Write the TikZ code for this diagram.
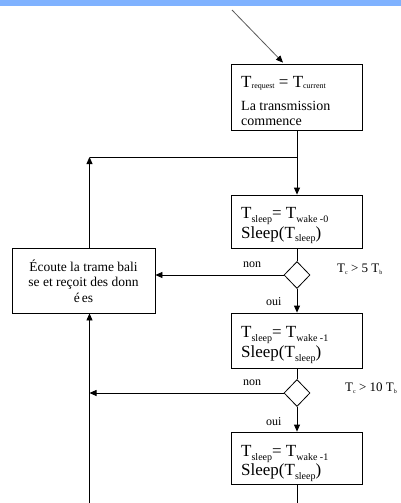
\documentclass[tikz,border=0pt]{standalone}
\usepackage{fontspec}
\setmainfont{Liberation Serif}
\usetikzlibrary{shapes.geometric,arrows.meta,calc}
\newcommand\lowsub[3]{\raisebox{-#2}{\fontsize{#1}{#1}\selectfont #3}}
\definecolor{band}{RGB}{127,178,255}
\begin{document}
\begin{tikzpicture}[x=1pt,y=-1pt,
 box/.style={draw,line width=0.8pt,minimum width=131pt,inner sep=0pt},
 dec/.style={draw,diamond,line width=0.8pt,minimum width=26pt,minimum height=27pt,inner sep=0pt},
 ln/.style={line width=0.8pt},
 arr/.style={ln,-{Triangle[length=7pt,width=6pt]}},
 big/.style={inner sep=0pt,anchor=base west,font=\fontsize{17}{17}\selectfont},
 mid/.style={inner sep=0pt,anchor=base west,font=\fontsize{14}{14}\selectfont},
 lefttxt/.style={inner sep=0pt,anchor=base,font=\fontsize{13.5}{13.5}\selectfont},
 lab/.style={inner sep=0pt,anchor=base west,font=\fontsize{12}{12}\selectfont},
 cond/.style={inner sep=0pt,anchor=base west,font=\fontsize{13}{13}\selectfont}]
\useasboundingbox (0,0) rectangle (401,503);
\fill[band] (0,0) rectangle (401,6);

% boxes
\node[box,minimum height=66pt] (b1) at (297,97) {};
\node[box,minimum height=53pt] (b2) at (297,221.5) {};
\node[box,minimum height=55pt] (b3) at (297,340.5) {};
\node[box,minimum height=52pt] (b4) at (297,458) {};
\node[draw,line width=0.8pt,minimum width=143pt,minimum height=65pt,inner sep=0pt] (lb) at (83.5,280.5) {};
\node[dec] (d1) at (297,275) {};
\node[dec] (d2) at (297,393) {};

% texts
\node[big] (t1a) at (241,88) {T\lowsub{8}{1pt}{request} = T\lowsub{8}{1pt}{current}};
\node[mid] (t1b) at (241,110) {La transmission};
\node[mid] (t1c) at (241,125) {commence};

\node[big] (t2a) at (241,218) {T\lowsub{10}{4pt}{sleep}= T\lowsub{10}{4pt}{wake -0}};
\node[big] (t2b) at (241,238) {Sleep(T\lowsub{10}{3pt}{sleep})};

\node[big] (t3a) at (241,337) {T\lowsub{10}{4pt}{sleep}= T\lowsub{10}{4pt}{wake -1}};
\node[big] (t3b) at (241,357) {Sleep(T\lowsub{10}{4pt}{sleep})};

\node[big] (t4a) at (241,456) {T\lowsub{10}{4pt}{sleep}= T\lowsub{10}{4pt}{wake -1}};
\node[big] (t4b) at (241,475) {Sleep(T\lowsub{10}{4pt}{sleep})};

\node[lefttxt] (l1) at (83.5,271.5) {Écoute la trame bali};
\node[lefttxt] (l2) at (83.5,286.5) {se et reçoit des donn};
\node[lefttxt] (l3) at (83.5,302.5) {é\kern2pt es};

\node[lab] (n1) at (243,267) {non};
\node[lab] (n2) at (243,385) {non};
\node[lab] (o1) at (266,305) {oui};
\node[lab] (o2) at (266,425) {oui};
\node[cond] (c5) at (337,272) {T\lowsub{6}{2pt}{c} > 5 T\lowsub{6}{2pt}{b}};
\node[cond] (c10) at (345,391) {T\lowsub{6}{2pt}{c} > 10 T\lowsub{6}{2pt}{b}};

% coordinates
\coordinate (s0) at (232,10);
\coordinate (c1) at (89.5,157);
\coordinate (bl) at (89.5,503);
\coordinate (br) at (297,503);

% connectors
\draw[ln,black!65,-{Triangle[length=7pt,width=6pt,color=black]}] (s0) -- ($(b1.north)+(-14,-1)$);
\draw[arr] (b1.south) -- (b2.north);
\draw[ln] (c1) -- (c1 -| b1.south);
\draw[arr] (lb.north -| c1) -- (c1);
\draw[ln] (b2.south) -- (d1.north);
\draw[arr] (d1.west) -- (d1.west -| lb.east);
\draw[arr] (d1.south) -- (b3.north);
\draw[ln] (b3.south) -- (d2.north);
\draw[arr] (d2.west) -- (d2.west -| c1);
\draw[arr] (d2.south) -- (b4.north);
\draw[ln] (b4.south) -- (br);
\draw[arr] (bl) -- (lb.south -| bl);
\end{tikzpicture}
\end{document}
